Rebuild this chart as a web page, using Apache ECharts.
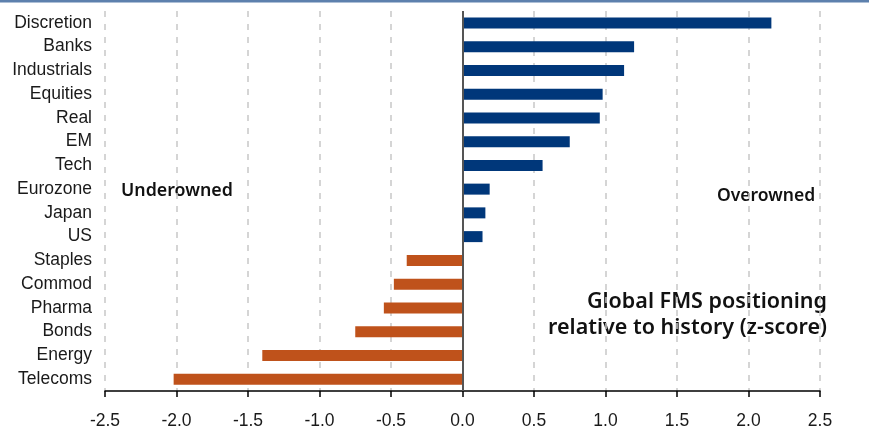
<!DOCTYPE html>
<html>
<head>
<meta charset="utf-8">
<script src="https://cdn.jsdelivr.net/npm/echarts@6/dist/echarts.min.js"></script>
<style>
  html, body { margin: 0; padding: 0; background: #fff; }
  #FmsChart { width: 869px; height: 438px; }
</style>
</head>
<body>
<div id="FmsChart"></div>
<script>
// 类别（自上而下）
var categories = ['Discretion', 'Banks', 'Industrials', 'Equities', 'Real', 'EM', 'Tech',
  'Eurozone', 'Japan', 'US', 'Staples', 'Commod', 'Pharma', 'Bonds', 'Energy', 'Telecoms'];
// z-score
var zScores = [2.16, 1.20, 1.13, 0.98, 0.96, 0.75, 0.56,
  0.19, 0.16, 0.14, -0.39, -0.48, -0.55, -0.75, -1.40, -2.02];
var annotations = ['Underowned', 'Overowned', 'Global FMS positioning', 'relative to history (z-score)'];

var posColor = '#00377a';
var negColor = '#bf521b';
var labelFont = '"Liberation Sans", Arial, sans-serif';
var noteFont = '"Noto Sans", "DejaVu Sans", sans-serif';

var chart = echarts.init(document.getElementById('FmsChart'));

var option = {
  backgroundColor: '#fff',
  animation: false,
  grid: {
    left: 105,
    right: 49,
    top: 11,
    bottom: 47,
    containLabel: false
  },
  xAxis: {
    type: 'value',
    min: -2.5,
    max: 2.5,
    interval: 0.5,
    axisLine: { show: true, onZero: false, lineStyle: { color: '#000', width: 1.5 } },
    axisTick: { show: true, length: 6, lineStyle: { color: '#000', width: 1.5 } },
    axisLabel: {
      margin: 21,
      fontFamily: labelFont,
      fontSize: 17.5,
      color: '#1a1a1a',
      formatter: function (v) { return v.toFixed(1); }
    },
    splitLine: {
      show: true,
      lineStyle: { color: '#c8c8c8', width: 1.5, type: [6, 7] }
    }
  },
  yAxis: {
    type: 'category',
    inverse: true,
    data: categories,
    axisLine: { show: false },
    axisTick: { show: false },
    axisLabel: {
      margin: 13,
      fontFamily: labelFont,
      fontSize: 17.5,
      color: '#1a1a1a'
    },
    splitLine: { show: false }
  },
  series: [{
    type: 'bar',
    barWidth: 11,
    data: zScores.map(function (v) {
      return { value: v, itemStyle: { color: v >= 0 ? posColor : negColor } };
    }),
    markLine: {
      silent: true,
      symbol: ['none', 'none'],
      label: { show: false },
      lineStyle: { color: '#555', width: 2, type: 'solid' },
      data: [{ xAxis: 0 }]
    }
  }],
  graphic: [
    // 顶部蓝线
    { type: 'rect', left: 0, top: 0, shape: { width: 869, height: 2.5 }, style: { fill: '#5d80ad' } },
    {
      type: 'text', left: 121, top: 182,
      style: { text: annotations[0], font: '600 17.8px ' + noteFont, fill: '#111' }
    },
    {
      type: 'text', left: 717, top: 187,
      style: { text: annotations[1], font: '600 17.5px ' + noteFont, fill: '#111' }
    },
    {
      type: 'text', right: 42, top: 291,
      style: { text: annotations[2], font: '600 21.5px ' + noteFont, fill: '#111', align: 'right' }
    },
    {
      type: 'text', right: 42, top: 317,
      style: { text: annotations[3], font: '600 21.5px ' + noteFont, fill: '#111', align: 'right' }
    }
  ]
};

chart.setOption(option);
</script>
</body>
</html>
